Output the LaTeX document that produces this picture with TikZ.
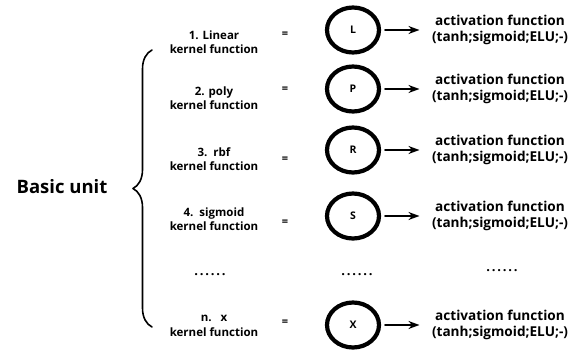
\documentclass[tikz,border=0pt]{standalone}
\usepackage{fontspec}
\setmainfont{Open Sans}
\usetikzlibrary{shapes.geometric,decorations.pathreplacing,arrows.meta}

\begin{document}
\begin{tikzpicture}[x=1pt,y=-1pt,line cap=round,line join=round,>={Stealth[length=11pt,width=8pt]},
	unit/.style={ellipse,draw,line width=4.2pt,minimum width=52pt,minimum height=45pt,inner sep=0pt,font=\bfseries\fontsize{10.5}{11}\selectfont},
	kern/.style={align=center,font=\bfseries\fontsize{11.5}{14.5}\selectfont},
	act/.style={align=center,font=\bfseries\fontsize{13.6}{15.5}\selectfont},
	eq/.style={font=\bfseries\fontsize{11}{12}\selectfont},
	dots/.style={font=\bfseries\fontsize{13}{14}\selectfont\addfontfeature{LetterSpace=14}}]
		\useasboundingbox (0,0) rectangle (587,356);
		% one row per kernel
		\foreach \y/\ky/\ey/\lt/\txt in {30/42/35/L/1. Linear,89/98/90/P/2. poly,150/159/160/R/3.\ \ rbf,216/219/223/S/4.\ \ sigmoid,325/326/323/X/n.\ \ \ x}{
			\node[kern] (kern\lt) at (214,\ky) {\txt\\kernel function};
			\node[eq] (eq\lt) at (285,\ey) {=};
			\node[unit] (unit\lt) at (353,\y) {\lt};
			\node[act] (act\lt) at (500,\y) {activation function\\(tanh;sigmoid;ELU;-)};
			\draw[->,line width=1.8pt,shorten <=4pt,shorten >=9pt] (unit\lt) -- (act\lt);
		}
		\node[dots] (dotsK) at (210,275) {......};
		\node[dots] (dotsU) at (357,275) {......};
		\node[dots] (dotsA) at (502,271) {......};
		% brace
		\coordinate (braceBot) at (152,327);
		\coordinate (braceTop) at (152,50);
		\draw[decorate,decoration={brace,amplitude=19pt},line width=1.6pt] (braceBot) -- (braceTop);
		\node[font=\bfseries\fontsize{18.5}{20}\selectfont] (basic) at (62,187) {Basic unit};
	\end{tikzpicture}
\end{document}
